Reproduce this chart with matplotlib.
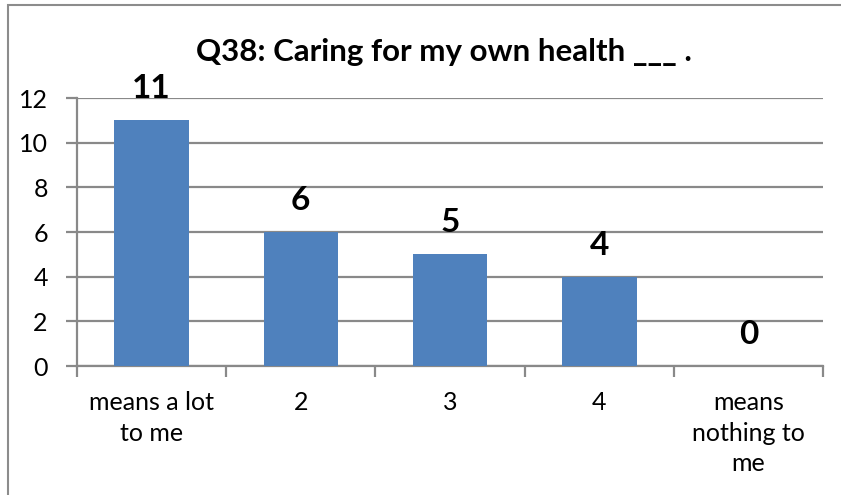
import matplotlib.pyplot as plt
from matplotlib.patches import Rectangle

categories = ["means a lot\nto me", "2", "3", "4", "means\nnothing to\nme"]
counts = [11, 6, 5, 4, 0]
title = "Q38: Caring for my own health ___ ."

plt.rcParams['font.family'] = ['Lato', 'DejaVu Sans']

bar_color = "#4F81BD"
grid_color = "#898989"

fig = plt.figure(figsize=(8.41, 4.95), dpi=100)
ax = fig.add_axes([77 / 841, 1 - 366 / 495, 746 / 841, 268 / 495])

xs = list(range(len(categories)))
ax.bar(xs, counts, width=0.5, color=bar_color, zorder=3)

for x, v in zip(xs, counts):
    ax.annotate(str(v), (x, v), xytext=(0, 22), textcoords="offset pixels",
                ha="center", va="baseline", fontsize=24, fontweight="bold")

ax.set_xlim(-0.5, len(categories) - 0.5)
ax.set_ylim(0, 12)
ax.set_yticks(range(0, 13, 2))
ax.yaxis.grid(True, color=grid_color, linewidth=1.6, zorder=0)
ax.tick_params(axis="y", length=8, width=1.6, color=grid_color, pad=13,
               labelsize=18)

# category boundaries get the tick marks, centres get the labels
ax.set_xticks([i - 0.5 for i in range(len(categories) + 1)])
ax.set_xticklabels([])
ax.set_xticks(xs, minor=True)
ax.set_xticklabels(categories, minor=True, fontsize=18, linespacing=1.4)
ax.tick_params(axis="x", which="major", length=8, width=1.6, color=grid_color)
ax.tick_params(axis="x", which="minor", length=0, pad=18)

for side in ("top", "right"):
    ax.spines[side].set_visible(False)
for side in ("left", "bottom"):
    ax.spines[side].set_color(grid_color)
    ax.spines[side].set_linewidth(1.6)

fig.text(444 / 841, 1 - 52 / 495, title, ha="center", va="center",
         fontsize=22.5, fontweight="bold")

fig.patches.append(Rectangle((8 / 841, -0.1), 1.2, 1 - 5 / 495 + 0.1,
                             transform=fig.transFigure, fill=False,
                             edgecolor="#8c8c8c", linewidth=1.5))

fig.savefig("out.png", dpi=100)
